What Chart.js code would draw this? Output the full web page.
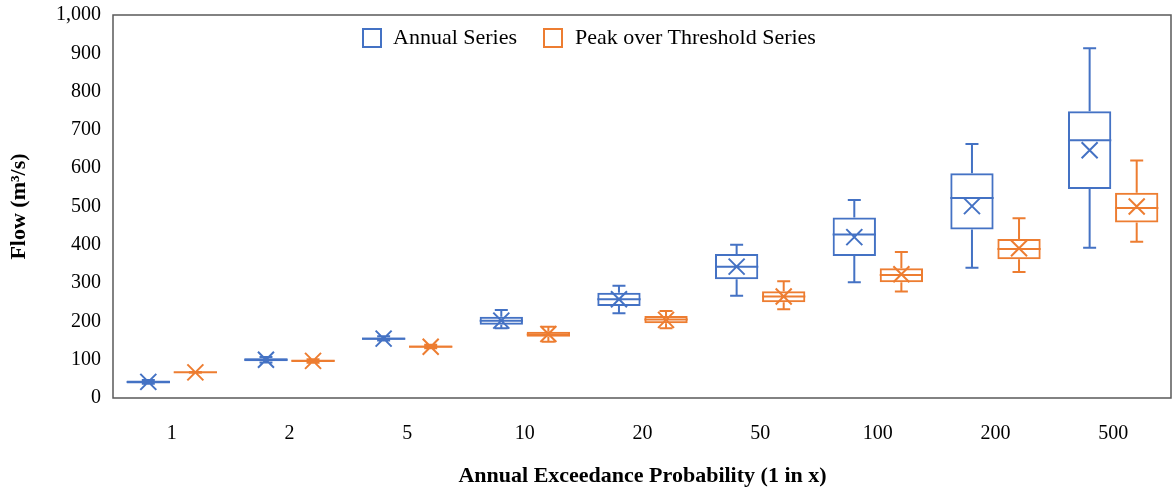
<!DOCTYPE html>
<html lang="en">
<head>
    <meta charset="UTF-8">
    <title>Flow by Annual Exceedance Probability</title>
    <script src="https://cdn.jsdelivr.net/npm/chart.js"></script>
    <style>
        body {
            margin: 0;
            padding: 0;
            background: #ffffff;
            font-family: 'Liberation Serif', serif;
        }

        .wrap {
            position: relative;
            width: 1172px;
            height: 490px;
        }

        .legend {
            position: absolute;
            top: 26px;
            left: 0;
            font-size: 22px;
            color: #000000;
        }

        .legend .box {
            position: absolute;
            width: 16px;
            height: 16px;
            border: 2px solid;
            top: 2px;
        }

        .legend .label {
            position: absolute;
            top: 0;
            white-space: nowrap;
            line-height: 22px;
        }
    </style>
</head>
<body>
    <div class="wrap">
        <canvas id="flowChart"></canvas>
        <div class="legend">
            <span class="box" style="left:362px;border-color:#4472C4"></span>
            <span class="label" style="left:393px">Annual Series</span>
            <span class="box" style="left:543px;border-color:#ED7D31"></span>
            <span class="label" style="left:575px">Peak over Threshold Series</span>
        </div>
    </div>

    <script>
        const categories = ['1', '2', '5', '10', '20', '50', '100', '200', '500'];

        // Annual series statistics (m3/s)
        const annualMin    = [37, 93, 150, 182, 221, 267, 302, 340, 392];
        const annualQ1     = [38, 96, 152, 191, 240, 310, 371, 440, 546];
        const annualMedian = [42, 100, 155, 202, 258, 343, 427, 522, 673];
        const annualQ3     = [46, 104, 158, 212, 275, 376, 471, 587, 749];
        const annualMax    = [47, 107, 161, 230, 293, 400, 517, 663, 913];
        const annualMean   = [42, 100, 155, 202, 258, 343, 420, 501, 647];

        // Peak over threshold series statistics (m3/s)
        const potMin    = [66, 92, 130, 147, 182, 232, 278, 329, 408];
        const potQ1     = [66, 94, 132, 160, 195, 250, 302, 362, 458];
        const potMedian = [67, 97, 134, 166, 205, 265, 321, 389, 496];
        const potQ3     = [68, 99, 137, 173, 214, 279, 339, 415, 536];
        const potMax    = [68, 101, 139, 186, 227, 305, 381, 469, 620];
        const potMean   = [67, 97, 134, 167, 204, 265, 323, 391, 500];

        const yTicks = [0, 100, 200, 300, 400, 500, 600, 700, 800, 900, 1000];

        const blue = '#4472C4';
        const orange = '#ED7D31';
        const fontFamily = "'Palatino Linotype', 'Book Antiqua', Palatino, 'Liberation Serif', serif";

        // whiskers, median line and mean cross on top of the floating bars
        const whiskerPlugin = {
            id: 'whiskers',
            afterDatasetsDraw(chart) {
                const ctx = chart.ctx;
                const y = chart.scales.y;
                chart.data.datasets.forEach((ds, i) => {
                    const meta = chart.getDatasetMeta(i);
                    meta.data.forEach((bar, j) => {
                        const x = bar.x;
                        const half = bar.width / 2;
                        const yMin = y.getPixelForValue(ds.stats.min[j]);
                        const yMax = y.getPixelForValue(ds.stats.max[j]);
                        const yQ1 = y.getPixelForValue(ds.data[j][0]);
                        const yQ3 = y.getPixelForValue(ds.data[j][1]);
                        const yMed = y.getPixelForValue(ds.stats.median[j]);
                        const yMean = y.getPixelForValue(ds.stats.mean[j]);
                        const cap = 6.5;
                        const cross = 8;

                        ctx.save();
                        ctx.strokeStyle = ds.borderColor;
                        ctx.lineWidth = 2;
                        ctx.beginPath();
                        // whiskers
                        ctx.moveTo(x, yQ3); ctx.lineTo(x, yMax);
                        ctx.moveTo(x - cap, yMax); ctx.lineTo(x + cap, yMax);
                        ctx.moveTo(x, yQ1); ctx.lineTo(x, yMin);
                        ctx.moveTo(x - cap, yMin); ctx.lineTo(x + cap, yMin);
                        // median
                        ctx.moveTo(x - half, yMed); ctx.lineTo(x + half, yMed);
                        // mean
                        ctx.moveTo(x - cross, yMean - cross); ctx.lineTo(x + cross, yMean + cross);
                        ctx.moveTo(x - cross, yMean + cross); ctx.lineTo(x + cross, yMean - cross);
                        ctx.stroke();
                        ctx.restore();
                    });
                });
            },
            afterDraw(chart) {
                const {ctx, chartArea} = chart;
                ctx.save();
                ctx.strokeStyle = '#595959';
                ctx.lineWidth = 1.5;
                ctx.strokeRect(chartArea.left, chartArea.top, chartArea.right - chartArea.left - 1, chartArea.bottom - chartArea.top);
                ctx.restore();
            }
        };

        function boxDataset(label, color, q1, q3, min, median, max, mean) {
            return {
                label: label,
                data: q1.map((v, i) => [v, q3[i]]),
                backgroundColor: 'rgba(255, 255, 255, 0)',
                borderColor: color,
                borderWidth: 2,
                borderSkipped: false,
                categoryPercentage: 0.8,
                barPercentage: 0.92,
                stats: { min: min, median: median, max: max, mean: mean }
            };
        }

        const ctx = document.getElementById('flowChart').getContext('2d');
        new Chart(ctx, {
            type: 'bar',
            data: {
                labels: categories,
                datasets: [
                    boxDataset('Annual Series', blue, annualQ1, annualQ3, annualMin, annualMedian, annualMax, annualMean),
                    boxDataset('Peak over Threshold Series', orange, potQ1, potQ3, potMin, potMedian, potMax, potMean)
                ]
            },
            options: {
                responsive: true,
                maintainAspectRatio: false,
                animation: false,
                layout: {
                    padding: { top: 15, right: 0, left: 0, bottom: 0 }
                },
                plugins: {
                    legend: { display: false },
                    tooltip: { enabled: false }
                },
                scales: {
                    x: {
                        afterFit(scale) {
                            scale.height = 92;
                        },
                        grid: { display: false, drawTicks: false },
                        border: { display: false },
                        ticks: {
                            padding: 24,
                            color: '#000000',
                            font: { family: fontFamily, size: 20 }
                        },
                        title: {
                            display: true,
                            text: 'Annual Exceedance Probability (1 in x)',
                            color: '#000000',
                            padding: { top: 0, bottom: 0 },
                            font: { family: fontFamily, size: 22, weight: 'bold' }
                        }
                    },
                    y: {
                        min: 0,
                        max: 1000,
                        afterBuildTicks(scale) {
                            scale.ticks = yTicks.map(v => ({ value: v }));
                        },
                        afterFit(scale) {
                            scale.width = 113;
                            // tick labels may overhang the plot edges
                            scale.paddingTop = 0;
                            scale.paddingBottom = 0;
                        },
                        grid: { display: false, drawTicks: false },
                        border: { display: false },
                        ticks: {
                            padding: 12,
                            color: '#000000',
                            font: { family: fontFamily, size: 20 },
                            callback: v => v.toLocaleString('en-US')
                        },
                        title: {
                            display: true,
                            text: 'Flow (m³/s)',
                            color: '#000000',
                            padding: { top: 6, bottom: 0 },
                            font: { family: fontFamily, size: 22, weight: 'bold' }
                        }
                    }
                }
            },
            plugins: [whiskerPlugin]
        });
    </script>
</body>
</html>
